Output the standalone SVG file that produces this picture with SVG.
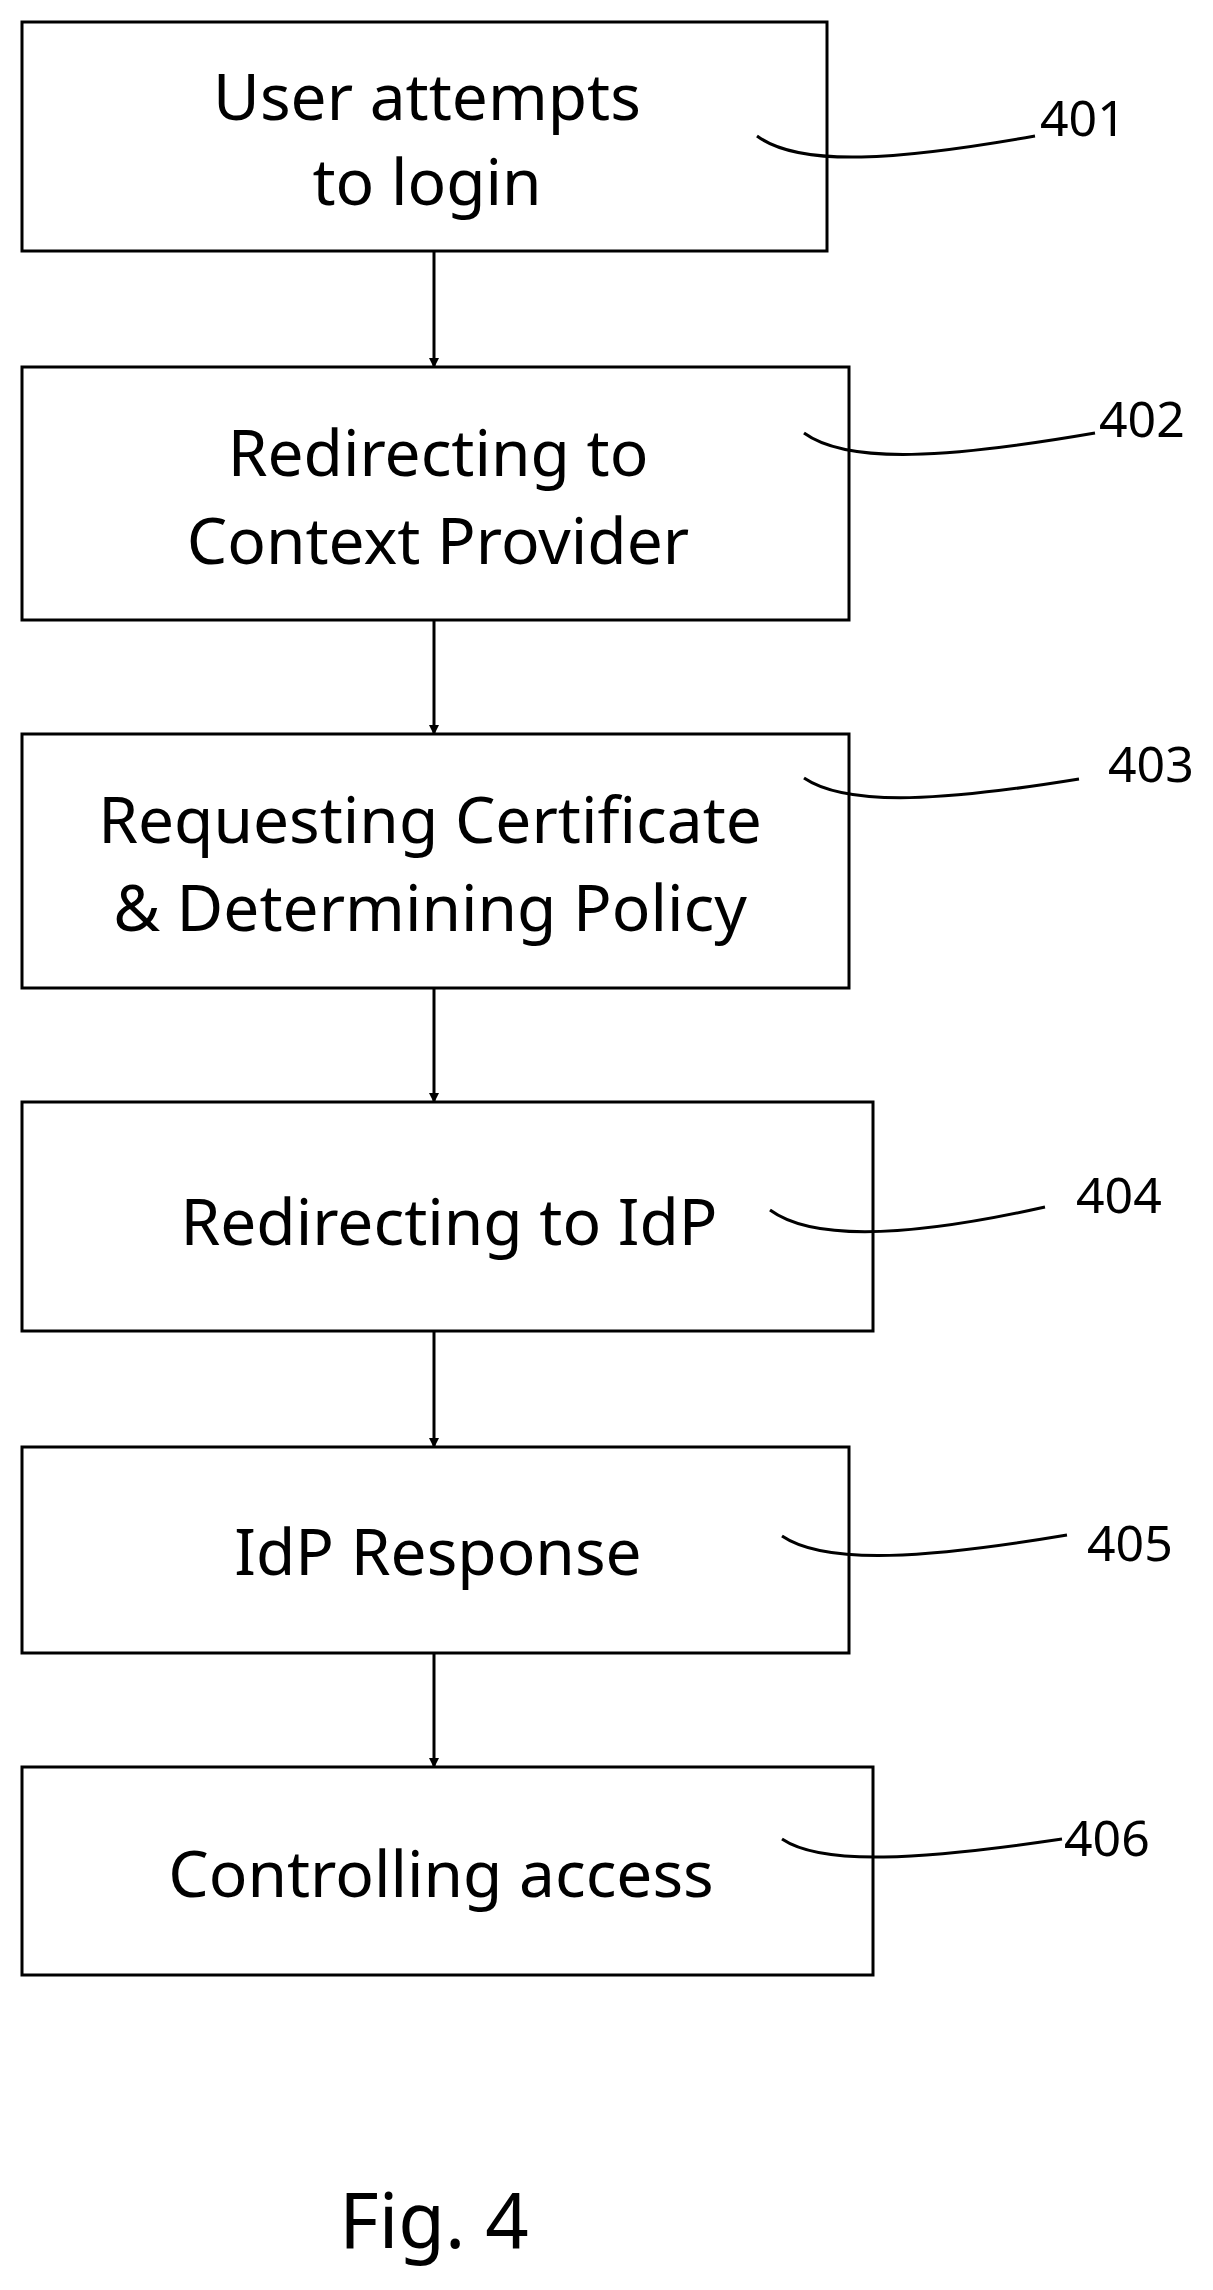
<svg xmlns="http://www.w3.org/2000/svg" width="1213" height="2290" viewBox="0 0 1213 2290">
<style>
.b{fill:#fff;stroke:#000;stroke-width:3}
.t{font-family:"Noto Sans","Open Sans",sans-serif;font-size:64px;text-anchor:middle;fill:#000}
.l{font-family:"Noto Sans","Open Sans",sans-serif;font-size:50px;fill:#000}
.c{fill:none;stroke:#000;stroke-width:3}
</style>
<defs><marker id="a" markerWidth="10" markerHeight="10" refX="9" refY="5" orient="auto" markerUnits="userSpaceOnUse" viewBox="0 0 10 10"><path d="M0,0 L10,5 L0,10 z"/></marker></defs>
<rect width="1213" height="2290" fill="#fff"/>
<g id="n401"><rect class="b" x="22" y="22" width="805" height="229"/><text class="t" x="427" y="120">User attempts</text><text class="t" x="427" y="205">to login</text><path class="c" d="M757,136 C800,168 900,160 1035,136"/><text class="l" x="1040" y="136">401</text></g>
<g id="n402"><rect class="b" x="22" y="367" width="827" height="253"/><text class="t" x="438" y="476">Redirecting to</text><text class="t" x="438" y="564">Context Provider</text><path class="c" d="M804,433 C848,465 950,458 1095,433"/><text class="l" x="1099" y="437">402</text></g>
<g id="n403"><rect class="b" x="22" y="734" width="827" height="254"/><text class="t" x="430" y="843">Requesting Certificate</text><text class="t" x="430" y="931">&amp; Determining Policy</text><path class="c" d="M804,778 C848,808 950,800 1079,779"/><text class="l" x="1108" y="782">403</text></g>
<g id="n404"><rect class="b" x="22" y="1102" width="851" height="229"/><text class="t" x="449" y="1245">Redirecting to IdP</text><path class="c" d="M770,1210 C815,1243 920,1235 1045,1207"/><text class="l" x="1076" y="1213">404</text></g>
<g id="n405"><rect class="b" x="22" y="1447" width="827" height="206"/><text class="t" x="438" y="1575">IdP Response</text><path class="c" d="M782,1536 C826,1566 930,1558 1067,1535"/><text class="l" x="1087" y="1561">405</text></g>
<g id="n406"><rect class="b" x="22" y="1767" width="851" height="208"/><text class="t" x="441" y="1897">Controlling access</text><path class="c" d="M782,1839 C822,1866 920,1860 1062,1839"/><text class="l" x="1064" y="1856">406</text></g>
<g id="connectors" stroke="#000" stroke-width="3">
<line x1="434" y1="251" x2="434" y2="367" marker-end="url(#a)"/>
<line x1="434" y1="620" x2="434" y2="734" marker-end="url(#a)"/>
<line x1="434" y1="988" x2="434" y2="1102" marker-end="url(#a)"/>
<line x1="434" y1="1331" x2="434" y2="1447" marker-end="url(#a)"/>
<line x1="434" y1="1653" x2="434" y2="1767" marker-end="url(#a)"/>
</g>
<text class="t" x="434" y="2248" style="font-size:76px">Fig. 4</text>
</svg>
